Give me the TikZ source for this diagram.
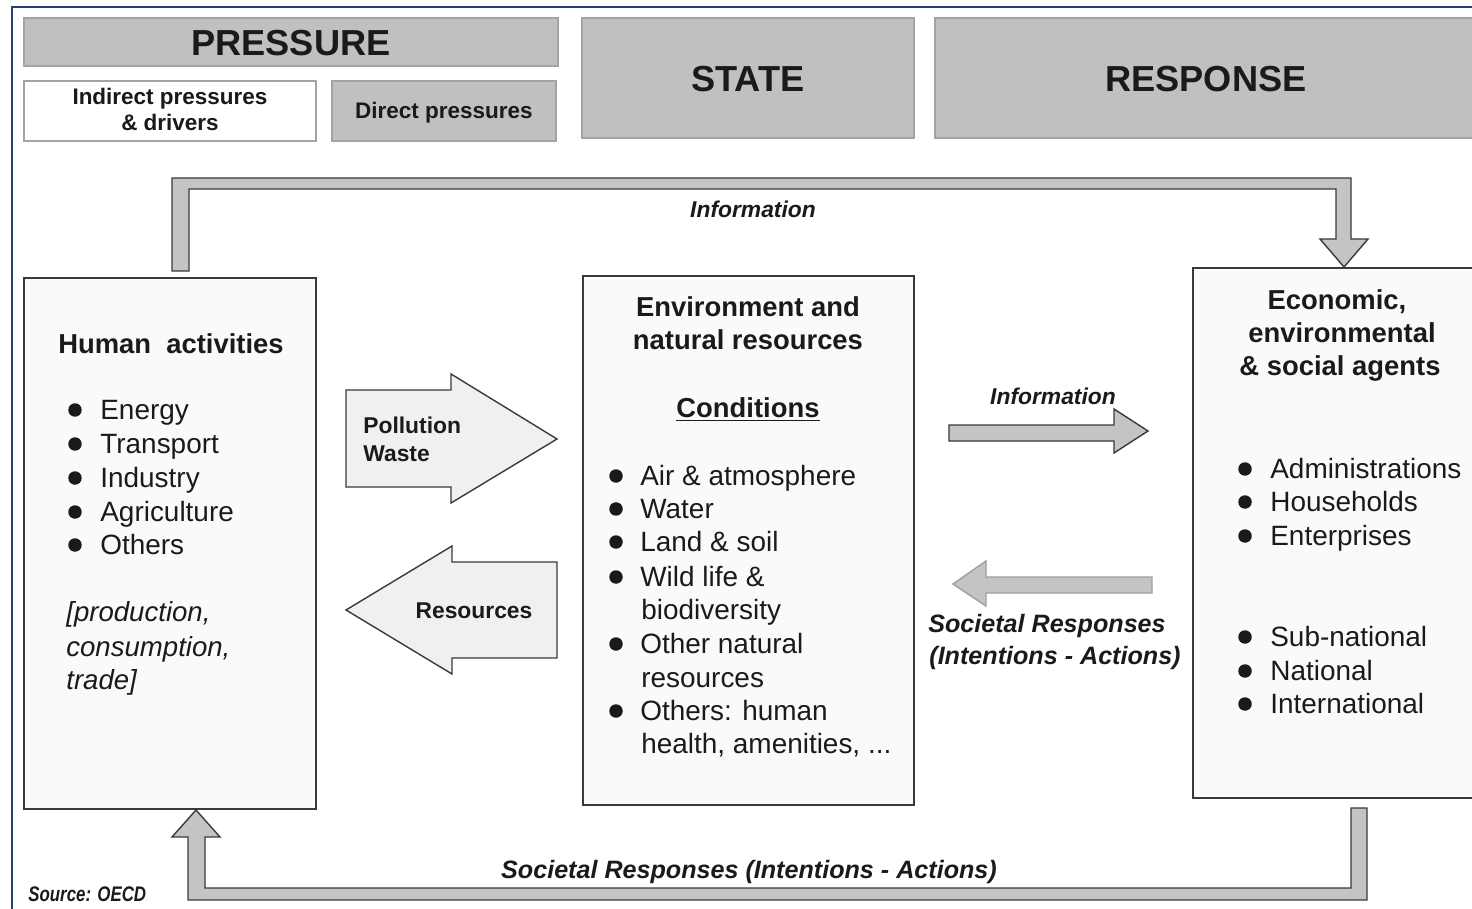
\documentclass[tikz,border=0pt]{standalone}
\usepackage{fontspec}
\setmainfont{Liberation Sans}
\definecolor{frameblue}{HTML}{1F4477}
\definecolor{hdrfill}{HTML}{C0C0C0}
\definecolor{hdrline}{HTML}{A3A3A3}
\definecolor{boxfill}{HTML}{FAFAFA}
\definecolor{boxline}{HTML}{3A3A3A}
\definecolor{arrfill}{HTML}{C4C4C4}
\definecolor{lightarr}{HTML}{F0F0F0}
\definecolor{txt}{HTML}{1A1A1A}
\newcommand\mkbox[6]{\node[#6, minimum width={(#4-#2)*0.02cm}, minimum height={(#5-#3)*0.02cm}] (#1) at ({(#2+#4)/2},{(#3+#5)/2}) {};}
\begin{document}
\begin{tikzpicture}[x=0.02cm,y=-0.02cm,
  hdrbox/.style={draw=hdrline, fill=hdrfill, line width=0.7pt, inner sep=0},
  wbox/.style={draw=hdrline, fill=white, line width=0.7pt, inner sep=0},
  mainbox/.style={draw=boxline, fill=boxfill, line width=0.9pt, inner sep=0},
  hdrtxt/.style={font=\fontsize{20.6}{24}\selectfont\bfseries, text=txt, inner sep=0, anchor=base},
  subtxt/.style={font=\fontsize{12.8}{15}\selectfont\bfseries, text=txt, inner sep=0, anchor=base},
  bodytxt/.style={font=\fontsize{15.9}{19}\selectfont, text=txt, inner sep=0, anchor=base west},
  italtxt/.style={font=\fontsize{15.7}{19}\selectfont\itshape, text=txt, inner sep=0, anchor=base west},
  bodyhd/.style={font=\fontsize{15.6}{19}\selectfont\bfseries, text=txt, inner sep=0, anchor=base},
  lbl/.style={font=\fontsize{13}{15}\selectfont\bfseries\itshape, text=txt, inner sep=0, anchor=base},
  arrlbl/.style={font=\fontsize{13}{15}\selectfont\bfseries, text=txt, inner sep=0},
  soc/.style={font=\fontsize{14.3}{17}\selectfont\bfseries\itshape, text=txt, inner sep=0, anchor=base},
  darrow/.style={draw=boxline, fill=arrfill, line width=0.8pt},
  larrow/.style={draw=boxline, fill=lightarr, line width=0.8pt},
  sarrow/.style={draw=gray!75, fill=arrfill, line width=0.8pt},
  bul/.style={fill=txt}
]
\useasboundingbox (0,0) rectangle (1472,909);
\clip (0,0) rectangle (1472,909);
\fill[white] (0,0) rectangle (1472,909);
% frame
\draw[frameblue, line width=1.1pt] (12,930) -- (12,7) -- (1490,7);

% header boxes
\mkbox{pres}{24}{18}{558}{66}{hdrbox}
\mkbox{indir}{24}{81}{316}{141}{wbox}
\mkbox{dir}{332}{81}{556}{141}{hdrbox}
\mkbox{state}{582}{18}{914}{138}{hdrbox}
\mkbox{resp}{935}{18}{1500}{138}{hdrbox}
\node[hdrtxt] (tpres) at (291,56) {PRESSURE};
\node[hdrtxt] (tstate) at (748,92) {STATE};
\node[hdrtxt] (tresp) at (1206,92) {RESPONSE};
\node[subtxt] (tind1) at (170,105) {Indirect pressures};
\node[subtxt] (tind2) at (170,131) {\& drivers};
\node[subtxt] (tdir) at (444,119) {Direct pressures};

% main boxes
\mkbox{hum}{24}{278}{316}{809}{mainbox}
\mkbox{env}{583}{276}{914}{805}{mainbox}
\mkbox{agents}{1193}{268}{1500}{798}{mainbox}

% top information loop arrow
\draw[darrow] (172,271) -- (172,178) -- (1351,178) -- (1351,239) -- (1368,239) -- (1344,267) -- (1320,239) -- (1336,239) -- (1336,189) -- (189,189) -- (189,271) -- cycle;
\node[lbl] (tinfo) at (753,217) {Information};

% bottom societal loop arrow
\draw[darrow] (1351,808) -- (1351,888) -- (205,888) -- (205,837) -- (220,837) -- (196,810) -- (172,837) -- (188,837) -- (188,900) -- (1367,900) -- (1367,808) -- cycle;
\node[soc] (tsocb) at (749,878) {Societal Responses (Intentions - Actions)};

% pollution / resources arrows
\draw[larrow] (346,390) -- (451,390) -- (451,374) -- (557,439) -- (451,503) -- (451,487) -- (346,487) -- cycle;
\node[arrlbl, anchor=base west] (tpol) at (363,433) {Pollution};
\node[arrlbl, anchor=base west] (twas) at (363,461) {Waste};
\draw[larrow] (557,562) -- (452,562) -- (452,546) -- (346,610) -- (452,674) -- (452,658) -- (557,658) -- cycle;
\node[arrlbl, anchor=base] (tres) at (474,618) {Resources};

% middle arrows
\draw[darrow] (949,425) -- (1114,425) -- (1114,409) -- (1148,431) -- (1114,453) -- (1114,441) -- (949,441) -- cycle;
\node[lbl] (tinfom) at (1053,404) {Information};
\draw[sarrow] (1152,577) -- (986,577) -- (986,561) -- (953,584) -- (986,606) -- (986,593) -- (1152,593) -- cycle;
\node[soc] (tsoc1) at (1047,632) {Societal Responses};
\node[soc] (tsoc2) at (1055,664) {(Intentions - Actions)};

% Human activities
\node[bodyhd] (hhd) at (171,353.5) {Human\ \ activities};
\foreach \t/\y [count=\i] in {Energy/410,Transport/444,Industry/478,Agriculture/512,Others/545}{
  \fill[bul] (75,\y) circle[radius=0.135cm];
  \node[bodytxt] (h\i) at (100,\y+9.5) {\t};
}
\node[italtxt] (hi1) at (66,621.5) {[production,};
\node[italtxt] (hi2) at (66,656.5) {consumption,};
\node[italtxt] (hi3) at (66,689.5) {trade]};

% Environment
\node[bodyhd] (ehd1) at (748,316.5) {Environment and};
\node[bodyhd] (ehd2) at (748,349.5) {natural resources};
\node[bodyhd] (econd) at (748,417.5) {\underline{Conditions}};
\foreach \y in {476,509,542,577,644,711}{
  \fill[bul] (616,\y) circle[radius=0.135cm];
}
\node[bodytxt] (e1) at (640,485.5) {Air \& atmosphere};
\node[bodytxt] (e2) at (640,518.5) {Water};
\node[bodytxt] (e3) at (640,551.5) {Land \& soil};
\node[bodytxt] (e4) at (640,586.5) {Wild life \&};
\node[bodytxt] (e5) at (641,619.5) {biodiversity};
\node[bodytxt] (e6) at (640,653.5) {Other natural};
\node[bodytxt] (e7) at (641,687.5) {resources};
\node[bodytxt] (e8) at (640,720.5) {Others: human};
\node[bodytxt] (e9) at (641,753.5) {health, amenities, ...};

% Agents
\node[bodyhd] (ahd1) at (1337,309.5) {Economic,};
\node[bodyhd] (ahd2) at (1342,342.5) {environmental};
\node[bodyhd] (ahd3) at (1340,375.5) {\& social agents};
\foreach \t/\y [count=\i] in {Administrations/469,Households/502,Enterprises/536,Sub-national/637,National/671,International/704}{
  \fill[bul] (1245,\y) circle[radius=0.135cm];
  \node[bodytxt] (a\i) at (1270,\y+9.5) {\t};
}

% source
\node[inner sep=0, anchor=base west, text=txt] (src) at (28,901) {\scalebox{0.8}[1]{\fontsize{12}{14}\selectfont\bfseries\itshape Source: OECD}};
\end{tikzpicture}
\end{document}
